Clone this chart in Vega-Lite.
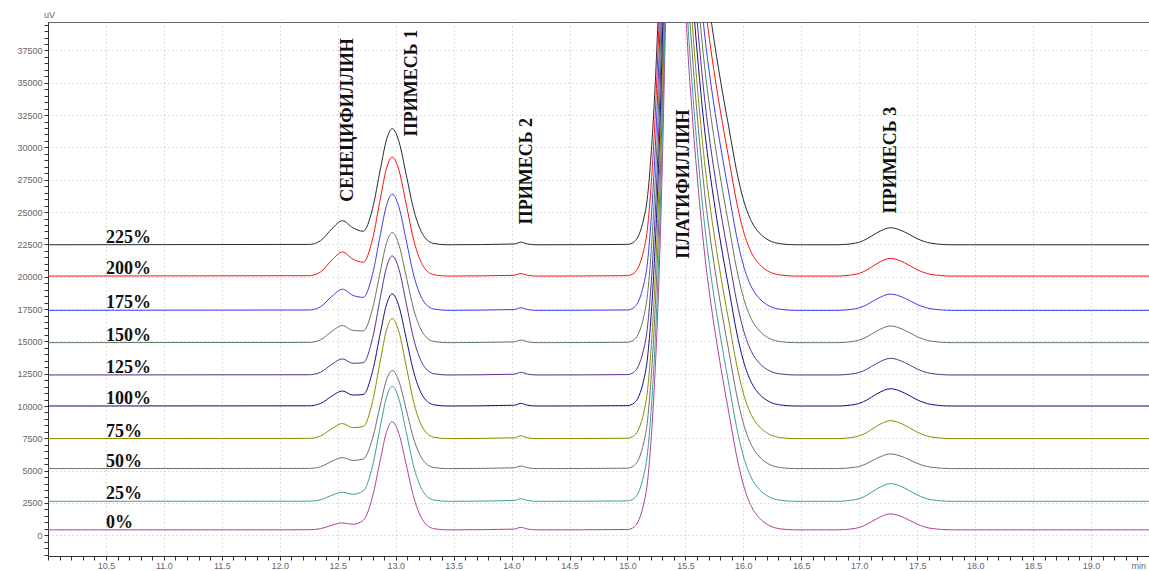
{
"$schema": "https://vega.github.io/schema/vega-lite/v6.json",
"width": 1101, "height": 534,
"autosize": {"type": "none"},
"padding": {"left": 48, "top": 22, "right": 0, "bottom": 15},
"background": "white",
"config": {"view": {"stroke": "#666", "strokeWidth": 1}},
"datasets": {
"traces": [
{"trace":"0%","t":10,"uV":420},{"trace":"0%","t":12.25,"uV":428},{"trace":"0%","t":12.35,"uV":509},{"trace":"0%","t":12.45,"uV":780},{"trace":"0%","t":12.54,"uV":964},{"trace":"0%","t":12.63,"uV":850},{"trace":"0%","t":12.72,"uV":1160},{"trace":"0%","t":12.8,"uV":2971},{"trace":"0%","t":12.87,"uV":5956},{"trace":"0%","t":12.92,"uV":7961},{"trace":"0%","t":12.97,"uV":8780},{"trace":"0%","t":13.03,"uV":7798},{"trace":"0%","t":13.09,"uV":5495},{"trace":"0%","t":13.16,"uV":2811},{"trace":"0%","t":13.24,"uV":1085},{"trace":"0%","t":13.33,"uV":513},{"trace":"0%","t":13.45,"uV":420},{"trace":"0%","t":14.02,"uV":480},{"trace":"0%","t":14.08,"uV":620},{"trace":"0%","t":14.14,"uV":480},{"trace":"0%","t":14.22,"uV":420},
{"trace":"0%","t":15.0,"uV":450},{"trace":"0%","t":15.06,"uV":670},{"trace":"0%","t":15.1,"uV":1220},{"trace":"0%","t":15.14,"uV":2420},{"trace":"0%","t":15.17,"uV":3920},{"trace":"0%","t":15.2,"uV":6920},{"trace":"0%","t":15.225,"uV":10420},{"trace":"0%","t":15.25,"uV":14920},{"trace":"0%","t":15.27,"uV":19420},{"trace":"0%","t":15.3,"uV":28420},{"trace":"0%","t":15.33,"uV":40420},{"trace":"0%","t":15.38,"uV":60420},{"trace":"0%","t":15.43,"uV":62420},{"trace":"0%","t":15.51,"uV":39420},{"trace":"0%","t":15.56,"uV":32420},{"trace":"0%","t":15.62,"uV":25920},{"trace":"0%","t":15.67,"uV":21420},{"trace":"0%","t":15.72,"uV":17920},{"trace":"0%","t":15.77,"uV":14920},{"trace":"0%","t":15.82,"uV":12220},{"trace":"0%","t":15.88,"uV":9220},{"trace":"0%","t":15.94,"uV":6220},{"trace":"0%","t":16.0,"uV":3920},{"trace":"0%","t":16.07,"uV":2220},{"trace":"0%","t":16.14,"uV":1320},{"trace":"0%","t":16.22,"uV":770},{"trace":"0%","t":16.32,"uV":500},{"trace":"0%","t":16.45,"uV":420},{"trace":"0%","t":16.8,"uV":420},
{"trace":"0%","t":16.97,"uV":545},{"trace":"0%","t":17.06,"uV":823},{"trace":"0%","t":17.15,"uV":1279},{"trace":"0%","t":17.27,"uV":1660},{"trace":"0%","t":17.39,"uV":1356},{"trace":"0%","t":17.5,"uV":861},{"trace":"0%","t":17.62,"uV":534},{"trace":"0%","t":17.8,"uV":420},{"trace":"0%","t":19.5,"uV":420},

{"trace":"25%","t":10,"uV":2630},{"trace":"25%","t":12.25,"uV":2640},{"trace":"25%","t":12.35,"uV":2745},{"trace":"25%","t":12.45,"uV":3097},{"trace":"25%","t":12.54,"uV":3334},{"trace":"25%","t":12.63,"uV":3172},{"trace":"25%","t":12.72,"uV":3443},{"trace":"25%","t":12.8,"uV":5351},{"trace":"25%","t":12.87,"uV":8525},{"trace":"25%","t":12.92,"uV":10658},{"trace":"25%","t":12.97,"uV":11530},{"trace":"25%","t":13.03,"uV":10484},{"trace":"25%","t":13.09,"uV":8032},{"trace":"25%","t":13.16,"uV":5175},{"trace":"25%","t":13.24,"uV":3338},{"trace":"25%","t":13.33,"uV":2729},{"trace":"25%","t":13.45,"uV":2630},{"trace":"25%","t":14.02,"uV":2690},{"trace":"25%","t":14.08,"uV":2830},{"trace":"25%","t":14.14,"uV":2690},{"trace":"25%","t":14.22,"uV":2630},
{"trace":"25%","t":15.0,"uV":2660},{"trace":"25%","t":15.06,"uV":2880},{"trace":"25%","t":15.1,"uV":3430},{"trace":"25%","t":15.14,"uV":4630},{"trace":"25%","t":15.17,"uV":6130},{"trace":"25%","t":15.2,"uV":9130},{"trace":"25%","t":15.225,"uV":12630},{"trace":"25%","t":15.25,"uV":17130},{"trace":"25%","t":15.27,"uV":21630},{"trace":"25%","t":15.3,"uV":30630},{"trace":"25%","t":15.33,"uV":42630},{"trace":"25%","t":15.38,"uV":62630},{"trace":"25%","t":15.43,"uV":64630},{"trace":"25%","t":15.51,"uV":41630},{"trace":"25%","t":15.56,"uV":34630},{"trace":"25%","t":15.62,"uV":28130},{"trace":"25%","t":15.67,"uV":23630},{"trace":"25%","t":15.72,"uV":20130},{"trace":"25%","t":15.77,"uV":17130},{"trace":"25%","t":15.82,"uV":14430},{"trace":"25%","t":15.88,"uV":11430},{"trace":"25%","t":15.94,"uV":8430},{"trace":"25%","t":16.0,"uV":6130},{"trace":"25%","t":16.07,"uV":4430},{"trace":"25%","t":16.14,"uV":3530},{"trace":"25%","t":16.22,"uV":2980},{"trace":"25%","t":16.32,"uV":2710},{"trace":"25%","t":16.45,"uV":2630},{"trace":"25%","t":16.8,"uV":2630},
{"trace":"25%","t":16.97,"uV":2768},{"trace":"25%","t":17.06,"uV":3075},{"trace":"25%","t":17.15,"uV":3579},{"trace":"25%","t":17.27,"uV":4000},{"trace":"25%","t":17.39,"uV":3664},{"trace":"25%","t":17.5,"uV":3118},{"trace":"25%","t":17.62,"uV":2756},{"trace":"25%","t":17.8,"uV":2630},{"trace":"25%","t":19.5,"uV":2630},

{"trace":"50%","t":10,"uV":5160},{"trace":"50%","t":12.25,"uV":5173},{"trace":"50%","t":12.35,"uV":5299},{"trace":"50%","t":12.45,"uV":5727},{"trace":"50%","t":12.54,"uV":6014},{"trace":"50%","t":12.63,"uV":5791},{"trace":"50%","t":12.72,"uV":5903},{"trace":"50%","t":12.8,"uV":7489},{"trace":"50%","t":12.87,"uV":10189},{"trace":"50%","t":12.92,"uV":12006},{"trace":"50%","t":12.97,"uV":12750},{"trace":"50%","t":13.03,"uV":11858},{"trace":"50%","t":13.09,"uV":9767},{"trace":"50%","t":13.16,"uV":7331},{"trace":"50%","t":13.24,"uV":5764},{"trace":"50%","t":13.33,"uV":5244},{"trace":"50%","t":13.45,"uV":5160},{"trace":"50%","t":14.02,"uV":5220},{"trace":"50%","t":14.08,"uV":5360},{"trace":"50%","t":14.14,"uV":5220},{"trace":"50%","t":14.22,"uV":5160},
{"trace":"50%","t":15.0,"uV":5190},{"trace":"50%","t":15.06,"uV":5410},{"trace":"50%","t":15.1,"uV":5960},{"trace":"50%","t":15.14,"uV":7160},{"trace":"50%","t":15.17,"uV":8660},{"trace":"50%","t":15.2,"uV":11660},{"trace":"50%","t":15.225,"uV":15160},{"trace":"50%","t":15.25,"uV":19660},{"trace":"50%","t":15.27,"uV":24160},{"trace":"50%","t":15.3,"uV":33160},{"trace":"50%","t":15.33,"uV":45160},{"trace":"50%","t":15.38,"uV":65160},{"trace":"50%","t":15.43,"uV":67160},{"trace":"50%","t":15.51,"uV":44160},{"trace":"50%","t":15.56,"uV":37160},{"trace":"50%","t":15.62,"uV":30660},{"trace":"50%","t":15.67,"uV":26160},{"trace":"50%","t":15.72,"uV":22660},{"trace":"50%","t":15.77,"uV":19660},{"trace":"50%","t":15.82,"uV":16960},{"trace":"50%","t":15.88,"uV":13960},{"trace":"50%","t":15.94,"uV":10960},{"trace":"50%","t":16.0,"uV":8660},{"trace":"50%","t":16.07,"uV":6960},{"trace":"50%","t":16.14,"uV":6060},{"trace":"50%","t":16.22,"uV":5510},{"trace":"50%","t":16.32,"uV":5240},{"trace":"50%","t":16.45,"uV":5160},{"trace":"50%","t":16.8,"uV":5160},
{"trace":"50%","t":16.97,"uV":5275},{"trace":"50%","t":17.06,"uV":5529},{"trace":"50%","t":17.15,"uV":5947},{"trace":"50%","t":17.27,"uV":6295},{"trace":"50%","t":17.39,"uV":6017},{"trace":"50%","t":17.5,"uV":5564},{"trace":"50%","t":17.62,"uV":5264},{"trace":"50%","t":17.8,"uV":5160},{"trace":"50%","t":19.5,"uV":5160},

{"trace":"75%","t":10,"uV":7480},{"trace":"75%","t":12.25,"uV":7497},{"trace":"75%","t":12.35,"uV":7670},{"trace":"75%","t":12.45,"uV":8254},{"trace":"75%","t":12.54,"uV":8645},{"trace":"75%","t":12.63,"uV":8332},{"trace":"75%","t":12.72,"uV":8413},{"trace":"75%","t":12.8,"uV":10334},{"trace":"75%","t":12.87,"uV":13635},{"trace":"75%","t":12.92,"uV":15860},{"trace":"75%","t":12.97,"uV":16770},{"trace":"75%","t":13.03,"uV":15678},{"trace":"75%","t":13.09,"uV":13119},{"trace":"75%","t":13.16,"uV":10137},{"trace":"75%","t":13.24,"uV":8219},{"trace":"75%","t":13.33,"uV":7583},{"trace":"75%","t":13.45,"uV":7480},{"trace":"75%","t":14.02,"uV":7540},{"trace":"75%","t":14.08,"uV":7700},{"trace":"75%","t":14.14,"uV":7540},{"trace":"75%","t":14.22,"uV":7480},
{"trace":"75%","t":15.0,"uV":7510},{"trace":"75%","t":15.06,"uV":7730},{"trace":"75%","t":15.1,"uV":8280},{"trace":"75%","t":15.14,"uV":9480},{"trace":"75%","t":15.17,"uV":10980},{"trace":"75%","t":15.2,"uV":13980},{"trace":"75%","t":15.225,"uV":17480},{"trace":"75%","t":15.25,"uV":21980},{"trace":"75%","t":15.27,"uV":26480},{"trace":"75%","t":15.3,"uV":35480},{"trace":"75%","t":15.33,"uV":47480},{"trace":"75%","t":15.38,"uV":67480},{"trace":"75%","t":15.43,"uV":69480},{"trace":"75%","t":15.51,"uV":46480},{"trace":"75%","t":15.56,"uV":39480},{"trace":"75%","t":15.62,"uV":32980},{"trace":"75%","t":15.67,"uV":28480},{"trace":"75%","t":15.72,"uV":24980},{"trace":"75%","t":15.77,"uV":21980},{"trace":"75%","t":15.82,"uV":19280},{"trace":"75%","t":15.88,"uV":16280},{"trace":"75%","t":15.94,"uV":13280},{"trace":"75%","t":16.0,"uV":10980},{"trace":"75%","t":16.07,"uV":9280},{"trace":"75%","t":16.14,"uV":8380},{"trace":"75%","t":16.22,"uV":7830},{"trace":"75%","t":16.32,"uV":7560},{"trace":"75%","t":16.45,"uV":7480},{"trace":"75%","t":16.8,"uV":7480},
{"trace":"75%","t":16.97,"uV":7620},{"trace":"75%","t":17.06,"uV":7932},{"trace":"75%","t":17.15,"uV":8443},{"trace":"75%","t":17.27,"uV":8870},{"trace":"75%","t":17.39,"uV":8529},{"trace":"75%","t":17.5,"uV":7975},{"trace":"75%","t":17.62,"uV":7608},{"trace":"75%","t":17.8,"uV":7480},{"trace":"75%","t":19.5,"uV":7480},

{"trace":"100%","t":10,"uV":10000},{"trace":"100%","t":12.25,"uV":10017},{"trace":"100%","t":12.35,"uV":10190},{"trace":"100%","t":12.45,"uV":10774},{"trace":"100%","t":12.54,"uV":11164},{"trace":"100%","t":12.63,"uV":10847},{"trace":"100%","t":12.72,"uV":10886},{"trace":"100%","t":12.8,"uV":12666},{"trace":"100%","t":12.87,"uV":15745},{"trace":"100%","t":12.92,"uV":17820},{"trace":"100%","t":12.97,"uV":18670},{"trace":"100%","t":13.03,"uV":17651},{"trace":"100%","t":13.09,"uV":15263},{"trace":"100%","t":13.16,"uV":12480},{"trace":"100%","t":13.24,"uV":10690},{"trace":"100%","t":13.33,"uV":10096},{"trace":"100%","t":13.45,"uV":10000},{"trace":"100%","t":14.02,"uV":10060},{"trace":"100%","t":14.08,"uV":10200},{"trace":"100%","t":14.14,"uV":10060},{"trace":"100%","t":14.22,"uV":10000},
{"trace":"100%","t":15.0,"uV":10030},{"trace":"100%","t":15.06,"uV":10250},{"trace":"100%","t":15.1,"uV":10800},{"trace":"100%","t":15.14,"uV":12000},{"trace":"100%","t":15.17,"uV":13500},{"trace":"100%","t":15.2,"uV":16500},{"trace":"100%","t":15.225,"uV":20000},{"trace":"100%","t":15.25,"uV":24500},{"trace":"100%","t":15.27,"uV":29000},{"trace":"100%","t":15.3,"uV":38000},{"trace":"100%","t":15.33,"uV":50000},{"trace":"100%","t":15.38,"uV":70000},{"trace":"100%","t":15.43,"uV":72000},{"trace":"100%","t":15.51,"uV":49000},{"trace":"100%","t":15.56,"uV":42000},{"trace":"100%","t":15.62,"uV":35500},{"trace":"100%","t":15.67,"uV":31000},{"trace":"100%","t":15.72,"uV":27500},{"trace":"100%","t":15.77,"uV":24500},{"trace":"100%","t":15.82,"uV":21800},{"trace":"100%","t":15.88,"uV":18800},{"trace":"100%","t":15.94,"uV":15800},{"trace":"100%","t":16.0,"uV":13500},{"trace":"100%","t":16.07,"uV":11800},{"trace":"100%","t":16.14,"uV":10900},{"trace":"100%","t":16.22,"uV":10350},{"trace":"100%","t":16.32,"uV":10080},{"trace":"100%","t":16.45,"uV":10000},{"trace":"100%","t":16.8,"uV":10000},
{"trace":"100%","t":16.97,"uV":10135},{"trace":"100%","t":17.06,"uV":10436},{"trace":"100%","t":17.15,"uV":10929},{"trace":"100%","t":17.27,"uV":11340},{"trace":"100%","t":17.39,"uV":11012},{"trace":"100%","t":17.5,"uV":10477},{"trace":"100%","t":17.62,"uV":10123},{"trace":"100%","t":17.8,"uV":10000},{"trace":"100%","t":19.5,"uV":10000},

{"trace":"125%","t":10,"uV":12400},{"trace":"125%","t":12.25,"uV":12418},{"trace":"125%","t":12.35,"uV":12603},{"trace":"125%","t":12.45,"uV":13227},{"trace":"125%","t":12.54,"uV":13645},{"trace":"125%","t":12.63,"uV":13304},{"trace":"125%","t":12.72,"uV":13343},{"trace":"125%","t":12.8,"uV":15233},{"trace":"125%","t":12.87,"uV":18502},{"trace":"125%","t":12.92,"uV":20707},{"trace":"125%","t":12.97,"uV":21610},{"trace":"125%","t":13.03,"uV":20528},{"trace":"125%","t":13.09,"uV":17990},{"trace":"125%","t":13.16,"uV":15034},{"trace":"125%","t":13.24,"uV":13133},{"trace":"125%","t":13.33,"uV":12502},{"trace":"125%","t":13.45,"uV":12400},{"trace":"125%","t":14.02,"uV":12460},{"trace":"125%","t":14.08,"uV":12600},{"trace":"125%","t":14.14,"uV":12460},{"trace":"125%","t":14.22,"uV":12400},
{"trace":"125%","t":15.0,"uV":12430},{"trace":"125%","t":15.06,"uV":12650},{"trace":"125%","t":15.1,"uV":13200},{"trace":"125%","t":15.14,"uV":14400},{"trace":"125%","t":15.17,"uV":15900},{"trace":"125%","t":15.2,"uV":18900},{"trace":"125%","t":15.225,"uV":22400},{"trace":"125%","t":15.25,"uV":26900},{"trace":"125%","t":15.27,"uV":31400},{"trace":"125%","t":15.3,"uV":40400},{"trace":"125%","t":15.33,"uV":52400},{"trace":"125%","t":15.38,"uV":72400},{"trace":"125%","t":15.43,"uV":74400},{"trace":"125%","t":15.51,"uV":51400},{"trace":"125%","t":15.56,"uV":44400},{"trace":"125%","t":15.62,"uV":37900},{"trace":"125%","t":15.67,"uV":33400},{"trace":"125%","t":15.72,"uV":29900},{"trace":"125%","t":15.77,"uV":26900},{"trace":"125%","t":15.82,"uV":24200},{"trace":"125%","t":15.88,"uV":21200},{"trace":"125%","t":15.94,"uV":18200},{"trace":"125%","t":16.0,"uV":15900},{"trace":"125%","t":16.07,"uV":14200},{"trace":"125%","t":16.14,"uV":13300},{"trace":"125%","t":16.22,"uV":12750},{"trace":"125%","t":16.32,"uV":12480},{"trace":"125%","t":16.45,"uV":12400},{"trace":"125%","t":16.8,"uV":12400},
{"trace":"125%","t":16.97,"uV":12530},{"trace":"125%","t":17.06,"uV":12819},{"trace":"125%","t":17.15,"uV":13294},{"trace":"125%","t":17.27,"uV":13690},{"trace":"125%","t":17.39,"uV":13374},{"trace":"125%","t":17.5,"uV":12859},{"trace":"125%","t":17.62,"uV":12519},{"trace":"125%","t":17.8,"uV":12400},{"trace":"125%","t":19.5,"uV":12400},

{"trace":"150%","t":10,"uV":14900},{"trace":"150%","t":12.25,"uV":14920},{"trace":"150%","t":12.35,"uV":15116},{"trace":"150%","t":12.45,"uV":15780},{"trace":"150%","t":12.54,"uV":16224},{"trace":"150%","t":12.63,"uV":15851},{"trace":"150%","t":12.72,"uV":15805},{"trace":"150%","t":12.8,"uV":17524},{"trace":"150%","t":12.87,"uV":20540},{"trace":"150%","t":12.92,"uV":22576},{"trace":"150%","t":12.97,"uV":23410},{"trace":"150%","t":13.03,"uV":22410},{"trace":"150%","t":13.09,"uV":20066},{"trace":"150%","t":13.16,"uV":17334},{"trace":"150%","t":13.24,"uV":15577},{"trace":"150%","t":13.33,"uV":14994},{"trace":"150%","t":13.45,"uV":14900},{"trace":"150%","t":14.02,"uV":14960},{"trace":"150%","t":14.08,"uV":15100},{"trace":"150%","t":14.14,"uV":14960},{"trace":"150%","t":14.22,"uV":14900},
{"trace":"150%","t":15.0,"uV":14930},{"trace":"150%","t":15.06,"uV":15150},{"trace":"150%","t":15.1,"uV":15700},{"trace":"150%","t":15.14,"uV":16900},{"trace":"150%","t":15.17,"uV":18400},{"trace":"150%","t":15.2,"uV":21400},{"trace":"150%","t":15.225,"uV":24900},{"trace":"150%","t":15.25,"uV":29400},{"trace":"150%","t":15.27,"uV":33900},{"trace":"150%","t":15.3,"uV":42900},{"trace":"150%","t":15.33,"uV":54900},{"trace":"150%","t":15.38,"uV":74900},{"trace":"150%","t":15.43,"uV":76900},{"trace":"150%","t":15.51,"uV":53900},{"trace":"150%","t":15.56,"uV":46900},{"trace":"150%","t":15.62,"uV":40400},{"trace":"150%","t":15.67,"uV":35900},{"trace":"150%","t":15.72,"uV":32400},{"trace":"150%","t":15.77,"uV":29400},{"trace":"150%","t":15.82,"uV":26700},{"trace":"150%","t":15.88,"uV":23700},{"trace":"150%","t":15.94,"uV":20700},{"trace":"150%","t":16.0,"uV":18400},{"trace":"150%","t":16.07,"uV":16700},{"trace":"150%","t":16.14,"uV":15800},{"trace":"150%","t":16.22,"uV":15250},{"trace":"150%","t":16.32,"uV":14980},{"trace":"150%","t":16.45,"uV":14900},{"trace":"150%","t":16.8,"uV":14900},
{"trace":"150%","t":16.97,"uV":15030},{"trace":"150%","t":17.06,"uV":15319},{"trace":"150%","t":17.15,"uV":15794},{"trace":"150%","t":17.27,"uV":16190},{"trace":"150%","t":17.39,"uV":15874},{"trace":"150%","t":17.5,"uV":15359},{"trace":"150%","t":17.62,"uV":15019},{"trace":"150%","t":17.8,"uV":14900},{"trace":"150%","t":19.5,"uV":14900},

{"trace":"175%","t":10,"uV":17400},{"trace":"175%","t":12.25,"uV":17424},{"trace":"175%","t":12.35,"uV":17667},{"trace":"175%","t":12.45,"uV":18487},{"trace":"175%","t":12.54,"uV":19034},{"trace":"175%","t":12.63,"uV":18562},{"trace":"175%","t":12.72,"uV":18403},{"trace":"175%","t":12.8,"uV":20176},{"trace":"175%","t":12.87,"uV":23352},{"trace":"175%","t":12.92,"uV":25500},{"trace":"175%","t":12.97,"uV":26380},{"trace":"175%","t":13.03,"uV":25325},{"trace":"175%","t":13.09,"uV":22851},{"trace":"175%","t":13.16,"uV":19968},{"trace":"175%","t":13.24,"uV":18115},{"trace":"175%","t":13.33,"uV":17500},{"trace":"175%","t":13.45,"uV":17400},{"trace":"175%","t":14.02,"uV":17460},{"trace":"175%","t":14.08,"uV":17600},{"trace":"175%","t":14.14,"uV":17460},{"trace":"175%","t":14.22,"uV":17400},
{"trace":"175%","t":15.0,"uV":17430},{"trace":"175%","t":15.06,"uV":17650},{"trace":"175%","t":15.1,"uV":18200},{"trace":"175%","t":15.14,"uV":19400},{"trace":"175%","t":15.17,"uV":20900},{"trace":"175%","t":15.2,"uV":23900},{"trace":"175%","t":15.225,"uV":27400},{"trace":"175%","t":15.25,"uV":31900},{"trace":"175%","t":15.27,"uV":36400},{"trace":"175%","t":15.3,"uV":45400},{"trace":"175%","t":15.33,"uV":57400},{"trace":"175%","t":15.38,"uV":77400},{"trace":"175%","t":15.43,"uV":79400},{"trace":"175%","t":15.51,"uV":56400},{"trace":"175%","t":15.56,"uV":49400},{"trace":"175%","t":15.62,"uV":42900},{"trace":"175%","t":15.67,"uV":38400},{"trace":"175%","t":15.72,"uV":34900},{"trace":"175%","t":15.77,"uV":31900},{"trace":"175%","t":15.82,"uV":29200},{"trace":"175%","t":15.88,"uV":26200},{"trace":"175%","t":15.94,"uV":23200},{"trace":"175%","t":16.0,"uV":20900},{"trace":"175%","t":16.07,"uV":19200},{"trace":"175%","t":16.14,"uV":18300},{"trace":"175%","t":16.22,"uV":17750},{"trace":"175%","t":16.32,"uV":17480},{"trace":"175%","t":16.45,"uV":17400},{"trace":"175%","t":16.8,"uV":17400},
{"trace":"175%","t":16.97,"uV":17527},{"trace":"175%","t":17.06,"uV":17810},{"trace":"175%","t":17.15,"uV":18273},{"trace":"175%","t":17.27,"uV":18660},{"trace":"175%","t":17.39,"uV":18351},{"trace":"175%","t":17.5,"uV":17849},{"trace":"175%","t":17.62,"uV":17516},{"trace":"175%","t":17.8,"uV":17400},{"trace":"175%","t":19.5,"uV":17400},

{"trace":"200%","t":10,"uV":20050},{"trace":"200%","t":12.25,"uV":20078},{"trace":"200%","t":12.35,"uV":20355},{"trace":"200%","t":12.45,"uV":21291},{"trace":"200%","t":12.54,"uV":21915},{"trace":"200%","t":12.63,"uV":21368},{"trace":"200%","t":12.72,"uV":21115},{"trace":"200%","t":12.8,"uV":22904},{"trace":"200%","t":12.87,"uV":26155},{"trace":"200%","t":12.92,"uV":28357},{"trace":"200%","t":12.97,"uV":29260},{"trace":"200%","t":13.03,"uV":28178},{"trace":"200%","t":13.09,"uV":25640},{"trace":"200%","t":13.16,"uV":22684},{"trace":"200%","t":13.24,"uV":20783},{"trace":"200%","t":13.33,"uV":20152},{"trace":"200%","t":13.45,"uV":20050},{"trace":"200%","t":14.02,"uV":20110},{"trace":"200%","t":14.08,"uV":20250},{"trace":"200%","t":14.14,"uV":20110},{"trace":"200%","t":14.22,"uV":20050},
{"trace":"200%","t":15.0,"uV":20080},{"trace":"200%","t":15.06,"uV":20300},{"trace":"200%","t":15.1,"uV":20850},{"trace":"200%","t":15.14,"uV":22050},{"trace":"200%","t":15.17,"uV":23550},{"trace":"200%","t":15.2,"uV":26550},{"trace":"200%","t":15.225,"uV":30050},{"trace":"200%","t":15.25,"uV":34550},{"trace":"200%","t":15.27,"uV":39050},{"trace":"200%","t":15.3,"uV":48050},{"trace":"200%","t":15.33,"uV":60050},{"trace":"200%","t":15.38,"uV":80050},{"trace":"200%","t":15.43,"uV":82050},{"trace":"200%","t":15.51,"uV":59050},{"trace":"200%","t":15.56,"uV":52050},{"trace":"200%","t":15.62,"uV":45550},{"trace":"200%","t":15.67,"uV":41050},{"trace":"200%","t":15.72,"uV":37550},{"trace":"200%","t":15.77,"uV":34550},{"trace":"200%","t":15.82,"uV":31850},{"trace":"200%","t":15.88,"uV":28850},{"trace":"200%","t":15.94,"uV":25850},{"trace":"200%","t":16.0,"uV":23550},{"trace":"200%","t":16.07,"uV":21850},{"trace":"200%","t":16.14,"uV":20950},{"trace":"200%","t":16.22,"uV":20400},{"trace":"200%","t":16.32,"uV":20130},{"trace":"200%","t":16.45,"uV":20050},{"trace":"200%","t":16.8,"uV":20050},
{"trace":"200%","t":16.97,"uV":20188},{"trace":"200%","t":17.06,"uV":20495},{"trace":"200%","t":17.15,"uV":20999},{"trace":"200%","t":17.27,"uV":21420},{"trace":"200%","t":17.39,"uV":21084},{"trace":"200%","t":17.5,"uV":20538},{"trace":"200%","t":17.62,"uV":20176},{"trace":"200%","t":17.8,"uV":20050},{"trace":"200%","t":19.5,"uV":20050},

{"trace":"225%","t":10,"uV":22470},{"trace":"225%","t":12.25,"uV":22498},{"trace":"225%","t":12.35,"uV":22775},{"trace":"225%","t":12.45,"uV":23711},{"trace":"225%","t":12.54,"uV":24334},{"trace":"225%","t":12.63,"uV":23786},{"trace":"225%","t":12.72,"uV":23518},{"trace":"225%","t":12.8,"uV":25254},{"trace":"225%","t":12.87,"uV":28423},{"trace":"225%","t":12.92,"uV":30570},{"trace":"225%","t":12.97,"uV":31450},{"trace":"225%","t":13.03,"uV":30395},{"trace":"225%","t":13.09,"uV":27921},{"trace":"225%","t":13.16,"uV":25038},{"trace":"225%","t":13.24,"uV":23185},{"trace":"225%","t":13.33,"uV":22570},{"trace":"225%","t":13.45,"uV":22470},{"trace":"225%","t":14.02,"uV":22530},{"trace":"225%","t":14.08,"uV":22670},{"trace":"225%","t":14.14,"uV":22530},{"trace":"225%","t":14.22,"uV":22470},
{"trace":"225%","t":15.0,"uV":22500},{"trace":"225%","t":15.06,"uV":22720},{"trace":"225%","t":15.1,"uV":23270},{"trace":"225%","t":15.14,"uV":24470},{"trace":"225%","t":15.17,"uV":25970},{"trace":"225%","t":15.2,"uV":28970},{"trace":"225%","t":15.225,"uV":32470},{"trace":"225%","t":15.25,"uV":36970},{"trace":"225%","t":15.27,"uV":41470},{"trace":"225%","t":15.3,"uV":50470},{"trace":"225%","t":15.33,"uV":62470},{"trace":"225%","t":15.38,"uV":82470},{"trace":"225%","t":15.43,"uV":84470},{"trace":"225%","t":15.51,"uV":61470},{"trace":"225%","t":15.56,"uV":54470},{"trace":"225%","t":15.62,"uV":47970},{"trace":"225%","t":15.67,"uV":43470},{"trace":"225%","t":15.72,"uV":39970},{"trace":"225%","t":15.77,"uV":36970},{"trace":"225%","t":15.82,"uV":34270},{"trace":"225%","t":15.88,"uV":31270},{"trace":"225%","t":15.94,"uV":28270},{"trace":"225%","t":16.0,"uV":25970},{"trace":"225%","t":16.07,"uV":24270},{"trace":"225%","t":16.14,"uV":23370},{"trace":"225%","t":16.22,"uV":22820},{"trace":"225%","t":16.32,"uV":22550},{"trace":"225%","t":16.45,"uV":22470},{"trace":"225%","t":16.8,"uV":22470},
{"trace":"225%","t":16.97,"uV":22603},{"trace":"225%","t":17.06,"uV":22899},{"trace":"225%","t":17.15,"uV":23385},{"trace":"225%","t":17.27,"uV":23790},{"trace":"225%","t":17.39,"uV":23467},{"trace":"225%","t":17.5,"uV":22940},{"trace":"225%","t":17.62,"uV":22591},{"trace":"225%","t":17.8,"uV":22470},{"trace":"225%","t":19.5,"uV":22470}
],
"peaks": [
{"t":12.586,"uV":32120,"name":"СЕНЕЦИФИЛЛИН"},
{"t":13.138,"uV":34985,"name":"ПРИМЕСЬ 1"},
{"t":14.129,"uV":28170,"name":"ПРИМЕСЬ 2"},
{"t":15.491,"uV":27170,"name":"ПЛАТИФИЛЛИН"},
{"t":17.276,"uV":29025,"name":"ПРИМЕСЬ 3"}
],
"pct": [
{"t":10.5,"uV":420,"name":"0%"},{"t":10.5,"uV":2630,"name":"25%"},{"t":10.5,"uV":5160,"name":"50%"},{"t":10.5,"uV":7480,"name":"75%"},{"t":10.5,"uV":10000,"name":"100%"},{"t":10.5,"uV":12400,"name":"125%"},{"t":10.5,"uV":14900,"name":"150%"},{"t":10.5,"uV":17400,"name":"175%"},{"t":10.5,"uV":20050,"name":"200%"},{"t":10.5,"uV":22470,"name":"225%"}
]
},
"layer": [
{
"data": {"name": "traces"},
"mark": {"type": "line", "interpolate": "monotone", "strokeWidth": 1, "clip": true},
"encoding": {
"x": {"field": "t", "type": "quantitative",
 "scale": {"domain": [10, 19.5], "nice": false, "zero": false},
 "axis": {"tickCount": 95, "labelExpr": "(abs(datum.value*2 - round(datum.value*2)) < 0.001 && datum.value > 10.2 && datum.value < 19.2) ? format(datum.value, '.1f') : ''",
  "labelOverlap": false, "labelBound": false, "labelFlush": false,
  "grid": true, "gridColor": "#bbbbbb", "gridDash": [1, 3],
  "gridOpacity": {"condition": {"test": "abs(datum.value*2 - round(datum.value*2)) < 0.001", "value": 0.9}, "value": 0},
  "tickSize": 4, "tickColor": "#333", "domainColor": "#333", "labelFontSize": 9, "labelColor": "#666", "labelPadding": 1, "labelFont": "Liberation Sans",
  "title": "min", "titleX": 1083, "titleY": 12, "titleAlign": "left", "titleBaseline": "alphabetic", "titleFontSize": 9, "titleFontWeight": "normal", "titleColor": "#666", "titleFont": "Liberation Sans"}},
"y": {"field": "uV", "type": "quantitative",
 "scale": {"domain": [-1600, 39700], "nice": false, "zero": false},
 "axis": {"tickCount": 83, "format": "d", "labelExpr": "(datum.value >= 0 && datum.value % 2500 === 0) ? datum.label : ''",
  "labelOverlap": false, "labelBound": false, "labelFlush": false,
  "grid": true, "gridColor": "#bbbbbb", "gridDash": [1, 3],
  "gridOpacity": {"condition": {"test": "datum.value % 2500 === 0", "value": 0.9}, "value": 0},
  "tickSize": 4, "tickColor": "#333", "domainColor": "#333", "labelFontSize": 9, "labelColor": "#666", "labelPadding": 2, "labelFont": "Liberation Sans",
  "title": "uV", "titleAngle": 0, "titleX": 1, "titleY": -3, "titleAlign": "center", "titleBaseline": "bottom", "titleFontSize": 9, "titleFontWeight": "normal", "titleColor": "#666", "titleFont": "Liberation Sans"}},
"color": {"field": "trace", "type": "nominal",
 "scale": {"domain": ["0%","25%","50%","75%","100%","125%","150%","175%","200%","225%"],
  "range": ["#b0409c","#3a9e9a","#6e6e6e","#8c8c00","#10108a","#5a3090","#5e7a5e","#3c3cf0","#ff1010","#2a2a2a"]},
 "legend": null}
}
},
{
"data": {"name": "peaks"},
"mark": {"type": "text", "angle": 270, "align": "center", "baseline": "middle", "font": "Liberation Serif", "fontWeight": "bold", "fontSize": 18, "color": "#111"},
"encoding": {
"x": {"field": "t", "type": "quantitative"},
"y": {"field": "uV", "type": "quantitative"},
"text": {"field": "name"}
}
},
{
"data": {"name": "pct"},
"mark": {"type": "text", "align": "left", "baseline": "alphabetic", "dy": -2, "font": "Liberation Serif", "fontWeight": "bold", "fontSize": 18, "color": "#111"},
"encoding": {
"x": {"field": "t", "type": "quantitative"},
"y": {"field": "uV", "type": "quantitative"},
"text": {"field": "name"}
}
}
]
}
